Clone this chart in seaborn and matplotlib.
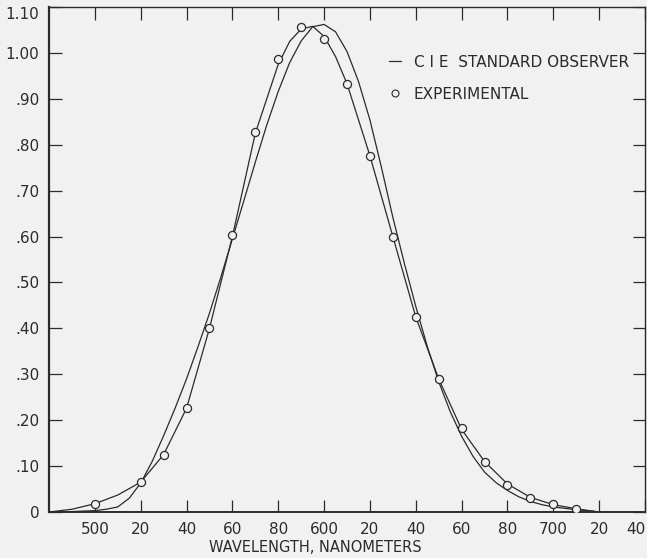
# CIE standard observer vs experimental luminosity data
import matplotlib
matplotlib.use("Agg")
import matplotlib.pyplot as plt
from matplotlib.lines import Line2D
import seaborn as sns

# CIE standard observer curve
cie_nm = [480, 490, 500, 505, 510, 515, 520, 525, 530, 535, 540, 545, 550, 555,
          560, 565, 570, 575, 580, 585, 590, 595, 600, 605, 610, 615, 620, 625,
          630, 635, 640, 645, 650, 655, 660, 665, 670, 675, 680, 685, 690, 695,
          700, 705, 710, 715, 720]
cie_val = [0.0, 0.001, 0.003, 0.006, 0.011, 0.030, 0.063, 0.110, 0.166, 0.226,
           0.290, 0.360, 0.433, 0.512, 0.595, 0.678, 0.762, 0.843, 0.916, 0.979,
           1.026, 1.057, 1.062, 1.046, 1.003, 0.938, 0.854, 0.751, 0.642, 0.542,
           0.448, 0.361, 0.284, 0.219, 0.165, 0.121, 0.087, 0.064, 0.047, 0.033,
           0.023, 0.016, 0.011, 0.008, 0.005, 0.003, 0.0]

# smooth curve drawn through the experimental points
exp_nm = [480, 490, 500, 510, 520, 530, 540, 550, 560, 570, 580, 585, 590, 595,
          600, 605, 610, 620, 630, 640, 650, 660, 670, 680, 690, 700, 710, 720]
exp_val = [0.0, 0.006, 0.018, 0.037, 0.065, 0.125, 0.226, 0.40, 0.60, 0.825,
           0.975, 1.025, 1.052, 1.058, 1.036, 0.992, 0.933, 0.776, 0.60, 0.425,
           0.29, 0.18, 0.11, 0.061, 0.032, 0.016, 0.007, 0.0]

# experimental points
pt_nm = [500, 520, 530, 540, 550, 560, 570, 580, 590, 600, 610, 620, 630, 640,
         650, 660, 670, 680, 690, 700, 710]
pt_val = [0.018, 0.065, 0.124, 0.226, 0.40, 0.603, 0.828, 0.987, 1.057, 1.03,
          0.933, 0.776, 0.599, 0.424, 0.29, 0.182, 0.109, 0.059, 0.030, 0.017,
          0.007]

x_ticks = list(range(500, 741, 20))
x_labels = ["500", "20", "40", "60", "80", "600", "20", "40", "60", "80",
            "700", "20", "40"]
y_ticks = [i / 10 for i in range(12)]
y_labels = ["0", ".10", ".20", ".30", ".40", ".50", ".60", ".70", ".80",
            ".90", "1.00", "1.10"]

bg = "#f1f1f1"
ink = "#2b2b2b"

sns.set_style("ticks")
plt.rcParams["font.family"] = ["DejaVu Sans"]

fig = plt.figure(figsize=(6.47, 5.58), dpi=100, facecolor=bg)
ax = fig.add_axes([49 / 647, 46 / 558, 596 / 647, 505 / 558])
ax.set_facecolor(bg)

sns.lineplot(x=cie_nm, y=cie_val, ax=ax, color=ink, linewidth=0.9)
sns.lineplot(x=exp_nm, y=exp_val, ax=ax, color=ink, linewidth=0.9)
sns.scatterplot(x=pt_nm, y=pt_val, ax=ax, marker="o", s=34,
                facecolor=bg, edgecolor=ink, linewidth=0.9, zorder=3)

ax.set_xlim(480, 740)
ax.set_ylim(0, 1.10)
ax.set_xticks(x_ticks)
ax.set_xticklabels(x_labels, fontsize=11, color=ink)
ax.set_yticks(y_ticks)
ax.set_yticklabels(y_labels, fontsize=11, color=ink)
ax.tick_params(direction="in", length=9, width=0.9, color=ink,
               top=True, right=True, labeltop=False, labelright=False)
ax.tick_params(axis="x", pad=7)
ax.tick_params(axis="y", pad=7)
# the last labels sit against the frame edges, as in the scan
ax.get_xticklabels()[-1].set_horizontalalignment("right")
ax.get_yticklabels()[-1].set_verticalalignment("top")
for side, spine in ax.spines.items():
    spine.set_visible(True)
    spine.set_color(ink)
    spine.set_linewidth(1.0)
ax.spines["left"].set_linewidth(1.6)
ax.spines["bottom"].set_linewidth(1.4)

ax.set_xlabel("WAVELENGTH, NANOMETERS", fontsize=10.5, color=ink)
ax.xaxis.set_label_coords(0.447, -0.055)
ax.set_ylabel("")

handles = [
    Line2D([], [], color=ink, linewidth=0.9),
    Line2D([], [], color=ink, linestyle="none", marker="o", markersize=5,
           markerfacecolor=bg, markeredgewidth=0.8),
]
ax.legend(handles, ["C I E  STANDARD OBSERVER", "EXPERIMENTAL"],
          loc="center left", bbox_to_anchor=(0.547, 0.859), frameon=False,
          fontsize=11, handlelength=0.8, handletextpad=0.85,
          labelspacing=1.1, labelcolor=ink)

fig.savefig("out.png", dpi=100, facecolor=bg)
